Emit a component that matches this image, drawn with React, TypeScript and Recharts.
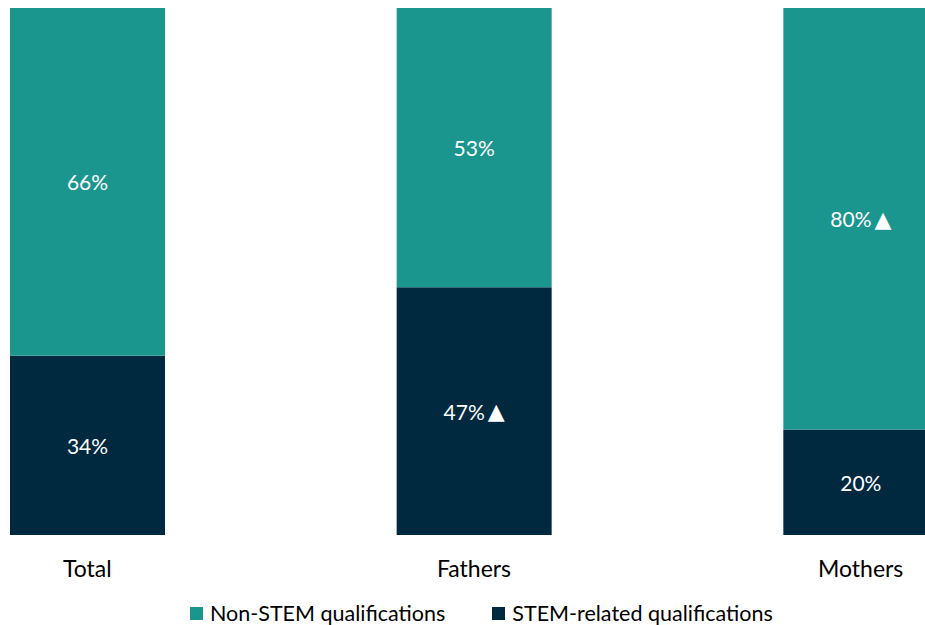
import React from 'react';
import { BarChart, Bar, XAxis, YAxis, LabelList, Legend } from 'recharts';

const categories = ['Total', 'Fathers', 'Mothers'];
const stemValues = [34, 47, 20];
const nonStemValues = [66, 53, 80];
const stemLabels = ['34%', '47%', '20%'];
const nonStemLabels = ['66%', '53%', '80%'];
const stemMarks = ['', '\u25B2', ''];
const nonStemMarks = ['', '', '\u25B2'];
const seriesNames = ['Non-STEM qualifications', 'STEM-related qualifications'];

const TEAL = '#1B968F';
const NAVY = '#00283F';
const FONT = 'Lato, "Open Sans", sans-serif';

const data = categories.map((c, i) => ({
  name: c,
  stem: stemValues[i],
  nonStem: nonStemValues[i],
  stemLabel: stemLabels[i] + '|' + stemMarks[i],
  nonStemLabel: nonStemLabels[i] + '|' + nonStemMarks[i],
}));

const SegmentLabel = (props: any) => {
  const { x, y, width, height, value } = props;
  const [txt, mark] = String(value).split('|');
  return (
    <text
      x={Number(x) + Number(width) / 2}
      y={Number(y) + Number(height) / 2}
      textAnchor="middle"
      dominantBaseline="central"
      fill="#fff"
      fontSize={21}
      fontFamily={FONT}
    >
      {txt}
      {mark ? <tspan fontSize={22} fontFamily="DejaVu Sans, sans-serif" dx={3}>{mark}</tspan> : null}
    </text>
  );
};

const LegendContent = () => {
  const items = [
    { name: seriesNames[0], color: TEAL },
    { name: seriesNames[1], color: NAVY },
  ];
  return (
    <div style={{ display: 'flex', alignItems: 'center', fontFamily: FONT, fontSize: 21.5, color: '#000', whiteSpace: 'nowrap', lineHeight: '24px', height: 24 }}>
      {items.map((it, i) => (
        <div key={it.name} style={{ display: 'flex', alignItems: 'center', marginRight: i === 0 ? 47 : 0 }}>
          <span style={{ display: 'inline-block', width: 13, height: 13, background: it.color, marginRight: 7 }} />
          <span>{it.name}</span>
        </div>
      ))}
    </div>
  );
};

export default function App() {
  const chartLeft = -106;
  return (
    <div style={{ position: 'absolute', left: 0, top: 0, width: 925, height: 625, overflow: 'hidden', background: '#fff' }}>
      <div style={{ position: 'absolute', left: chartLeft, top: 0 }}>
        <BarChart
          width={1160}
          height={625}
          data={data}
          margin={{ top: 8, right: 0, bottom: 36, left: 0 }}
          barSize={155}
        >
          <XAxis
            dataKey="name"
            axisLine={false}
            tickLine={false}
            tickMargin={20}
            tick={{ fill: '#000', fontSize: 23, fontFamily: FONT }}
            interval={0}
          />
          <YAxis hide domain={[0, 100]} />
          <Legend
            layout="horizontal"
            verticalAlign="bottom"
            align="center"
            content={<LegendContent />}
            wrapperStyle={{ left: 190 - chartLeft, top: 601, bottom: 'auto', width: 'auto', height: 24 }}
          />
          <Bar dataKey="stem" stackId="a" fill={NAVY} isAnimationActive={false}>
            <LabelList dataKey="stemLabel" content={<SegmentLabel />} />
          </Bar>
          <Bar dataKey="nonStem" stackId="a" fill={TEAL} isAnimationActive={false}>
            <LabelList dataKey="nonStemLabel" content={<SegmentLabel />} />
          </Bar>
        </BarChart>
      </div>
    </div>
  );
}
